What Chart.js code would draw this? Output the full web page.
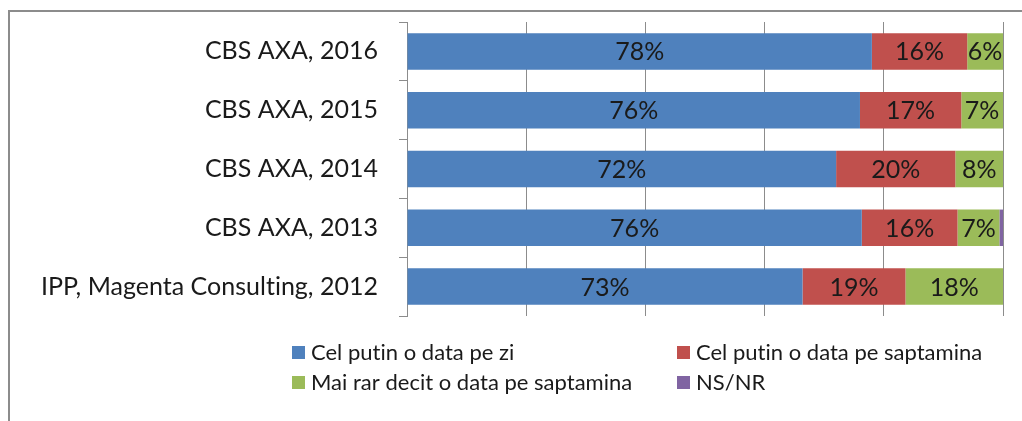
<!DOCTYPE html>
<html><head><meta charset="utf-8">
<script src="https://cdn.jsdelivr.net/npm/chart.js@4/dist/chart.umd.min.js"></script>
<style>
html,body{margin:0;padding:0;background:#fff;overflow:hidden}
#wrap{position:relative;width:1022px;height:421px}
#frame{position:absolute;left:8px;top:10px;width:1100px;height:500px;border:2px solid #8c8c8c;box-sizing:border-box}
canvas{position:absolute;left:0;top:0;font-variant-ligatures:none}
</style></head><body>
<div id="wrap"><div id="frame"></div><canvas id="c" width="1022" height="421"></canvas></div>
<script>
const categories = ["CBS AXA, 2016", "CBS AXA, 2015", "CBS AXA, 2014", "CBS AXA, 2013", "IPP, Magenta Consulting, 2012"];
const seriesNames = ["Cel putin o data pe zi", "Cel putin o data pe saptamina", "Mai rar decit o data pe saptamina", "NS/NR"];
const dailyValues = [78, 76, 72, 76, 73];
const weeklyValues = [16, 17, 20, 16, 19];
const rarerValues = [6, 7, 8, 7, 18];
const nsnrValues = [0, 0, 0, 0.6, 0];
const seriesColors = ["#4F81BD", "#C0504D", "#9BBB59", "#8064A2"];
const xTickValues = [0, 20, 40, 60, 80, 100];

const FONT = "Lato, 'Liberation Sans', Arial, sans-serif";
const rawSeries = [dailyValues, weeklyValues, rarerValues, nsnrValues];
const totals = categories.map((_, i) => rawSeries.reduce((s, arr) => s + arr[i], 0));

const datasets = rawSeries.map((arr, k) => ({
  label: seriesNames[k],
  data: arr.map((v, i) => v / totals[i] * 100),
  raw: arr,
  backgroundColor: seriesColors[k],
  borderWidth: 0,
  barPercentage: 1,
  categoryPercentage: 0.62
}));

const noLigatures = {
  id: 'noLigatures',
  beforeDraw(chart) { chart.ctx.letterSpacing = '0.01px'; }
};

const valueLabels = {
  id: 'valueLabels',
  afterDatasetsDraw(chart) {
    const ctx = chart.ctx;
    ctx.save();
    ctx.font = "25px " + FONT;
    ctx.fillStyle = "#1a1a1a";
    ctx.textAlign = "center";
    ctx.textBaseline = "middle";
    chart.data.datasets.forEach((ds, di) => {
      const meta = chart.getDatasetMeta(di);
      meta.data.forEach((el, i) => {
        const v = ds.raw[i];
        if (v < 1) return;
        const p = el.getProps(['x', 'y', 'base'], true);
        ctx.fillText(v + "%", (p.x + p.base) / 2, p.y + 1);
      });
    });
    ctx.restore();
  }
};

const gridLegend = {
  id: 'gridLegend',
  afterDraw(chart) {
    const ctx = chart.ctx;
    const colX = [292, 677];
    const rowY = [352, 382];
    ctx.save();
    ctx.letterSpacing = '0.01px';
    ctx.font = "22px " + FONT;
    ctx.textBaseline = "middle";
    ctx.textAlign = "left";
    chart.data.datasets.forEach((ds, k) => {
      const x = colX[k % 2], y = rowY[Math.floor(k / 2)];
      ctx.fillStyle = ds.backgroundColor;
      ctx.fillRect(x, y - 6, 13, 13);
      ctx.fillStyle = "#1a1a1a";
      ctx.fillText(ds.label, x + 19, y + 1);
    });
    ctx.restore();
  }
};

new Chart(document.getElementById('c'), {
  type: 'bar',
  data: { labels: categories, datasets },
  plugins: [noLigatures, valueLabels, gridLegend],
  options: {
    indexAxis: 'y',
    responsive: false,
    animation: false,
    devicePixelRatio: 1,
    layout: { padding: { top: 22, right: 19, bottom: 105, left: 0 } },
    plugins: { legend: { display: false }, tooltip: { enabled: false } },
    scales: {
      x: {
        type: 'linear', stacked: true, min: 0, max: 100,
        afterBuildTicks(scale) { scale.ticks = xTickValues.map(v => ({ value: v })); },
        afterFit(scale) { scale.height = 0; scale.paddingLeft = 0; scale.paddingRight = 0; },
        ticks: { display: false },
        grid: { color: '#8c8c8c', lineWidth: 1, drawTicks: false },
        border: { display: false }
      },
      y: {
        type: 'category', stacked: true,
        afterFit(scale) { scale.width = 407; scale.paddingTop = 0; scale.paddingBottom = 0; },
        grid: { drawOnChartArea: false, drawTicks: true, tickLength: 8, color: '#8c8c8c', offset: true },
        border: { display: true, color: '#8c8c8c', width: 1 },
        ticks: { font: { family: FONT, size: 25 }, color: '#1a1a1a', padding: 21 }
      }
    }
  }
});
</script>
</body></html>
